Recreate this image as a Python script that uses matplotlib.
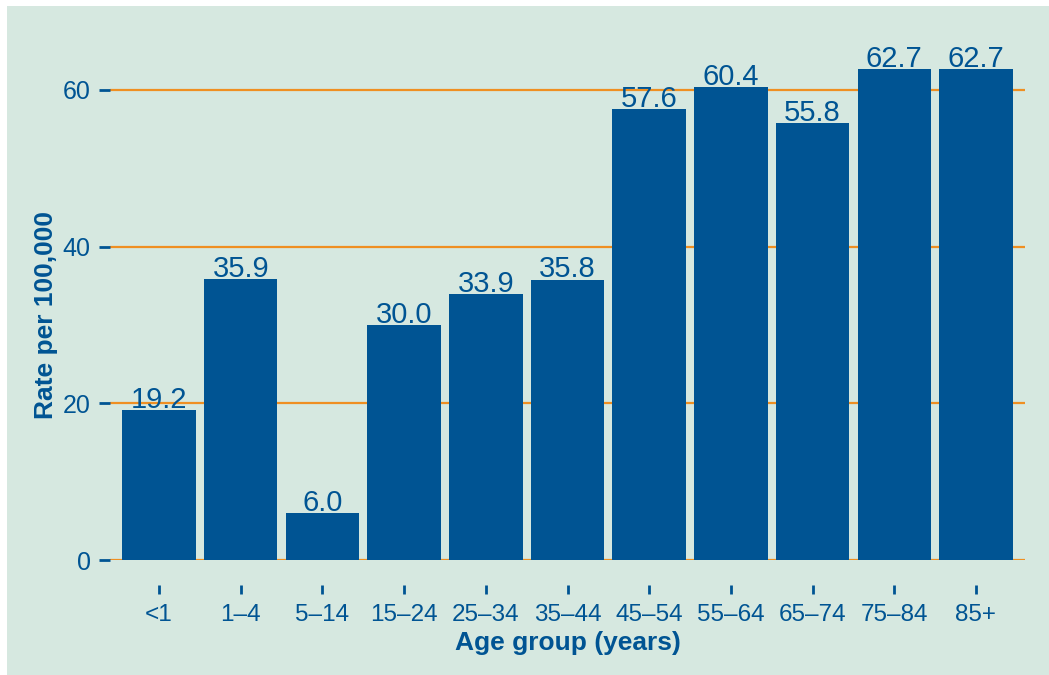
import matplotlib
matplotlib.use("Agg")
import matplotlib.pyplot as plt
from matplotlib.patches import Rectangle

age_groups = ["<1", "1\u20134", "5\u201314", "15\u201324", "25\u201334", "35\u201344",
              "45\u201354", "55\u201364", "65\u201374", "75\u201384", "85+"]
rates = [19.2, 35.9, 6.0, 30.0, 33.9, 35.8, 57.6, 60.4, 55.8, 62.7, 62.7]
y_ticks = [0, 20, 40, 60]

BLUE = "#005493"
ORANGE = "#ef8f22"
PANEL = "#d6e8e0"

plt.rcParams["font.family"] = ["Liberation Sans", "DejaVu Sans"]

W, H = 1049, 675
fig = plt.figure(figsize=(W / 100, H / 100), dpi=100)
fig.patch.set_facecolor("white")
fig.patches.append(Rectangle((7 / W, 0), 1 - 7 / W, 1 - 6 / H,
                             transform=fig.transFigure, facecolor=PANEL,
                             edgecolor="none", zorder=-10))

ax = fig.add_axes([110 / W, 1 - 560 / H, (1025 - 110) / W, (560 - 43) / H])
ax.set_zorder(5)
ax.set_facecolor("none")

x = list(range(len(age_groups)))
bars = ax.bar(x, rates, width=0.9, color=BLUE, zorder=2)
for xi, v in zip(x, rates):
    ax.annotate(f"{v:.1f}", (xi, v), xytext=(0, 1.5), textcoords="offset points",
                ha="center", va="baseline", fontsize=21, color=BLUE, zorder=3)

ax.set_xlim(-0.6, len(age_groups) - 0.4)
ax.set_ylim(0, 66)
ax.set_yticks(y_ticks)
ax.set_xticks(x)
ax.set_xticklabels(age_groups)

ax.yaxis.grid(True, color=ORANGE, linewidth=1.6, zorder=1)
ax.set_axisbelow(True)
for s in ax.spines.values():
    s.set_visible(False)
ax.spines["bottom"].set_position(("outward", 18))

ax.tick_params(axis="y", length=8, width=2, color=BLUE, labelcolor=BLUE,
               labelsize=18, pad=6, direction="out")
ax.tick_params(axis="x", length=6.5, width=2, color=BLUE, labelcolor=BLUE,
               labelsize=17.5, pad=7.5, direction="out")

ax.set_xlabel("Age group (years)", fontsize=19, fontweight="bold",
              color=BLUE, labelpad=3.5)
ax.set_ylabel("Rate per 100,000", fontsize=19, fontweight="bold",
              color=BLUE)
ax.yaxis.set_label_coords((58 - 110) / 915, (560 - 315) / 517)

fig.savefig("out.png", dpi=100, facecolor=fig.get_facecolor())
